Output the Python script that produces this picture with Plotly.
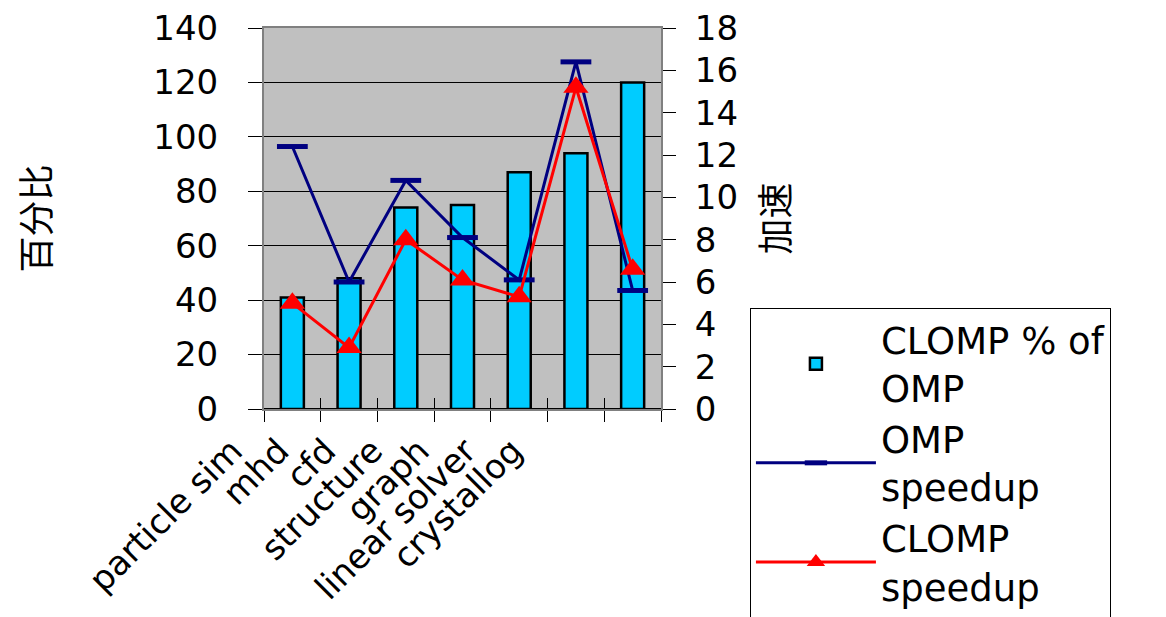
import plotly.graph_objects as go

categories = ["particle sim", "mhd", "cfd", "structure", "graph", "linear solver", "crystallog"]
clomp_pct = [41, 48, 74, 75, 87, 94, 120]
omp_speedup = [12.4, 6.0, 10.8, 8.1, 6.1, 16.4, 5.6]
clomp_speedup = [5.0, 2.9, 8.0, 6.1, 5.3, 15.2, 6.6]

left_ticks = list(range(0, 141, 20))
right_ticks = list(range(0, 19, 2))

FONT = "DejaVu Sans, sans-serif"
CJK = "Noto Sans CJK SC"

fig = go.Figure()
fig.add_trace(go.Bar(
    x=categories, y=clomp_pct, name="CLOMP % of<br>OMP",
    marker=dict(color="#00CCFF", line=dict(color="black", width=2.5)),
    yaxis="y", xaxis="x",
))
fig.add_trace(go.Scatter(
    x=categories, y=omp_speedup, name="OMP<br>speedup", mode="lines+markers",
    line=dict(color="#000080", width=3),
    marker=dict(symbol="line-ew", size=22, color="#000080",
                line=dict(color="#000080", width=5)),
    yaxis="y2", xaxis="x",
))
fig.add_trace(go.Scatter(
    x=categories, y=clomp_speedup, name="CLOMP<br>speedup", mode="lines+markers",
    line=dict(color="#FF0000", width=3),
    marker=dict(symbol="triangle-up", size=22, color="#FF0000"),
    yaxis="y2", xaxis="x",
))
# invisible carriers for the inner tick marks (x2) and the category labels (x3)
for ax in ("x2", "x3"):
    fig.add_trace(go.Scatter(
        x=categories, y=clomp_pct, mode="markers", marker=dict(opacity=0),
        showlegend=False, hoverinfo="skip", xaxis=ax, yaxis="y",
    ))

fig.update_layout(
    width=1166, height=617,
    margin=dict(l=256, r=513, t=20, b=216, autoexpand=False),
    paper_bgcolor="white", plot_bgcolor="#C0C0C0",
    font=dict(family=FONT, size=34, color="black"),
    bargap=0.594,
    showlegend=True,
    legend=dict(
        x=1.224, xanchor="left", y=0.265, yanchor="top",
        bgcolor="white", bordercolor="black", borderwidth=1,
        font=dict(family=FONT, size=37, color="black"),
        tracegroupgap=0, itemwidth=120,
    ),
    xaxis=dict(
        type="category", categoryorder="array", categoryarray=categories,
        tickson="boundaries", ticks="outside", ticklen=11, tickcolor="black",
        showticklabels=False, automargin=False,
        showline=True, linecolor="#808080", linewidth=2, mirror=True,
        showgrid=False, range=[-0.5, 6.5],
    ),
    xaxis2=dict(
        type="category", categoryorder="array", categoryarray=categories,
        overlaying="x", anchor="y", side="bottom", automargin=False,
        tickson="boundaries", ticks="inside", ticklen=11, tickcolor="black",
        showticklabels=False, showgrid=False, showline=False,
        range=[-0.5, 6.5],
    ),
    xaxis3=dict(
        type="category", categoryorder="array", categoryarray=categories,
        overlaying="x", anchor="y", side="bottom", automargin=False,
        ticks="", tickangle=-45, tickfont=dict(family=FONT, size=34),
        ticklabelshift=-55, ticklabelstandoff=14, ticklabeloverflow="allow",
        showgrid=False, showline=False, range=[-0.5, 8.0],
    ),
    yaxis=dict(
        range=[0, 140], tickvals=left_ticks, ticks="outside", ticklen=14,
        tickcolor="black", tickfont=dict(size=34), ticklabelstandoff=23,
        ticklabeloverflow="allow",
        showgrid=True, gridcolor="black", gridwidth=1, automargin=False,
        zeroline=True, zerolinecolor="black", zerolinewidth=2,
        showline=True, linecolor="#808080", linewidth=2,
        title=dict(text="百分比", font=dict(family=CJK, size=36), standoff=94),
    ),
    yaxis2=dict(
        range=[0, 18], tickvals=right_ticks, overlaying="y", side="right",
        anchor="x", ticks="outside", ticklen=13, tickcolor="black",
        tickfont=dict(size=34), ticklabelstandoff=12, automargin=False,
        ticklabeloverflow="allow",
        showgrid=False, zeroline=False,
        showline=True, linecolor="#808080", linewidth=2,
        title=dict(text="加速", font=dict(family=CJK, size=36), standoff=27),
    ),
)

fig.write_html("out.html")
